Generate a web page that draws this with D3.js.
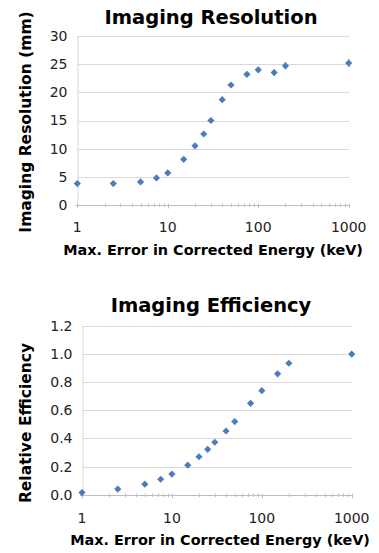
<!DOCTYPE html>
<html><head><meta charset="utf-8">
<script src="https://cdn.jsdelivr.net/npm/d3@7"></script>
<style>body{margin:0;background:#fff}svg{display:block}</style>
</head><body>
<script>
const xValues = [1, 2.5, 5, 7.5, 10, 15, 20, 25, 30, 40, 50, 75, 100, 150, 200, 1000];
const resolution = [3.8, 3.8, 4.1, 4.8, 5.7, 8.1, 10.5, 12.6, 15.0, 18.7, 21.3, 23.2, 24.0, 23.5, 24.7, 25.2];
const resolutionErr = [0.2, 0.2, 0.2, 0.2, 0.2, 0.2, 0.2, 0.25, 0.25, 0.3, 0.3, 0.4, 0.45, 0.5, 0.6, 0.65];
const efficiency = [0.015, 0.04, 0.075, 0.11, 0.147, 0.21, 0.27, 0.323, 0.373, 0.453, 0.52, 0.65, 0.74, 0.86, 0.935, 1.0];
const xTicks = [1, 10, 100, 1000];
const resTicks = [0, 5, 10, 15, 20, 25, 30];
const effTicks = [0, 0.2, 0.4, 0.6, 0.8, 1.0, 1.2];

const W = 379, H = 553;
const color = "#4a7ebb";
const svg = d3.select("body").append("svg").attr("width", W).attr("height", H);
const font = "'DejaVu Sans', Verdana, sans-serif";

function chart(cfg) {
  const x = d3.scaleLog().domain([1, 1000]).range([cfg.x0, cfg.x1]);
  const y = d3.scaleLinear().domain(cfg.yDomain).range([cfg.y0, cfg.y1]);
  const g = svg.append("g");
  g.selectAll(".grid").data(cfg.yTicks.filter(d => d !== 0)).join("line")
    .attr("x1", cfg.x0).attr("x2", cfg.x1 + 0.5)
    .attr("y1", d => Math.round(y(d)) + 0.5).attr("y2", d => Math.round(y(d)) + 0.5)
    .attr("stroke", "#d9d9d9").attr("stroke-width", 1);
  const ya = g.append("g").attr("transform", `translate(${Math.round(cfg.x0) + 0.5},0)`)
    .call(d3.axisLeft(y).tickValues(cfg.yTicks).tickFormat(cfg.yFmt).tickSize(0).tickPadding(10));
  ya.select(".domain").attr("stroke", "#d9d9d9");
  ya.selectAll("text").attr("font-family", font).attr("font-size", "14px").attr("fill", "#222");
  const minor = [];
  for (let p = 1; p <= 100; p *= 10) for (let k = 2; k <= 9; k++) minor.push(p * k);
  const yb = Math.round(y(0)) + 0.5;
  g.append("line").attr("x1", cfg.x0 - 2).attr("x2", cfg.x1 + 0.5).attr("y1", yb).attr("y2", yb)
    .attr("stroke", "#bfbfbf");
  g.selectAll(".minor").data(minor).join("line")
    .attr("x1", d => Math.round(x(d)) + 0.5).attr("x2", d => Math.round(x(d)) + 0.5)
    .attr("y1", yb - 2).attr("y2", yb + 1.5).attr("stroke", "#bfbfbf");
  g.selectAll(".major").data(xTicks).join("line")
    .attr("x1", d => Math.round(x(d)) + 0.5).attr("x2", d => Math.round(x(d)) + 0.5)
    .attr("y1", yb - 2).attr("y2", yb + 3).attr("stroke", "#bfbfbf");
  g.selectAll(".xl").data(xTicks).join("text")
    .attr("x", d => x(d)).attr("y", cfg.xLabelY).attr("text-anchor", "middle")
    .attr("font-family", font).attr("font-size", "14px").attr("fill", "#222")
    .text(d => d);
  if (cfg.err) {
    g.selectAll(".err").data(xValues).join("line")
      .attr("x1", d => x(d)).attr("x2", d => x(d))
      .attr("y1", (d, i) => y(cfg.values[i] - cfg.err[i]))
      .attr("y2", (d, i) => y(cfg.values[i] + cfg.err[i]))
      .attr("stroke", color).attr("stroke-width", 1.5);
  }
  const s = 3.6;
  const diamond = `M0,${-s}L${s},0L0,${s}L${-s},0Z`;
  g.selectAll(".pt").data(xValues).join("path")
    .attr("transform", (d, i) => `translate(${x(d)},${y(cfg.values[i])})`)
    .attr("d", diamond).attr("fill", color);
  g.append("text").attr("x", cfg.titleX).attr("y", cfg.titleY).attr("text-anchor", "middle")
    .attr("font-family", font).attr("font-weight", "bold").attr("font-size", "19.5px").attr("fill", "#000")
    .text(cfg.title);
  g.append("text").attr("x", cfg.xTitleX).attr("y", cfg.xTitleY).attr("text-anchor", "middle")
    .attr("font-family", font).attr("font-weight", "bold").attr("font-size", "14.4px").attr("fill", "#000")
    .text("Max. Error in Corrected Energy (keV)");
  g.append("text").attr("transform", `translate(${cfg.yTitleX},${cfg.yTitleY}) rotate(-90)`)
    .attr("text-anchor", "middle")
    .attr("font-family", font).attr("font-weight", "bold").attr("font-size", "15.5px").attr("fill", "#000")
    .text(cfg.yTitle);
}

chart({
  x0: 77.3, x1: 348.7, y0: 205, y1: 36, yDomain: [0, 30], yTicks: resTicks, yFmt: d3.format("d"),
  values: resolution, err: resolutionErr,
  xLabelY: 232, title: "Imaging Resolution", titleX: 211, titleY: 24,
  xTitleX: 213, xTitleY: 255, yTitle: "Imaging Resolution (mm)", yTitleX: 31, yTitleY: 122
});
chart({
  x0: 82, x1: 351.7, y0: 494.7, y1: 326, yDomain: [0, 1.2], yTicks: effTicks, yFmt: d3.format(".1f"),
  values: efficiency, err: null,
  xLabelY: 523, title: "Imaging Efficiency", titleX: 211, titleY: 312,
  xTitleX: 220, xTitleY: 545, yTitle: "Relative Efficiency", yTitleX: 31, yTitleY: 423
});
</script>
</body></html>
